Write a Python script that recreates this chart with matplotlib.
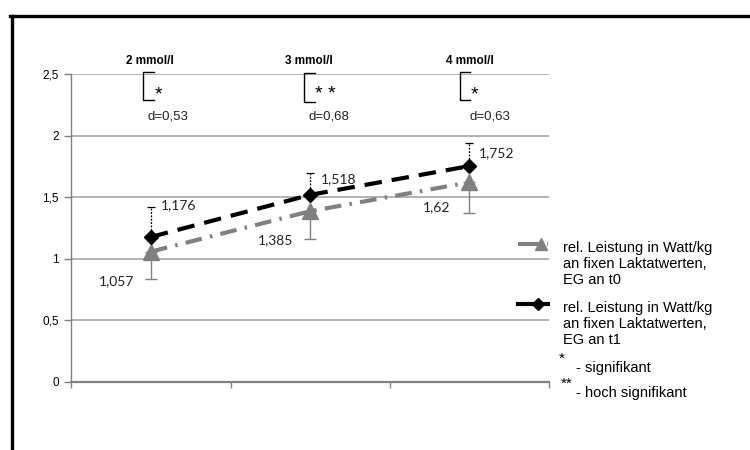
import matplotlib
matplotlib.use("Agg")
import matplotlib.pyplot as plt
from matplotlib.lines import Line2D

# Lactate thresholds and relative power (W/kg)
categories = ["2 mmol/l", "3 mmol/l", "4 mmol/l"]
t0_values = [1.057, 1.385, 1.62]
t1_values = [1.176, 1.518, 1.752]
t0_err_low = [0.225, 0.228, 0.247]
t1_err_high = [0.241, 0.175, 0.185]
t0_labels = ["1,057", "1,385", "1,62"]
t1_labels = ["1,176", "1,518", "1,752"]
significance = ["*", "**", "*"]
effect_sizes = ["d=0,53", "d=0,68", "d=0,63"]
y_ticks = [0, 0.5, 1, 1.5, 2, 2.5]
y_tick_labels = ["0", "0,5", "1", "1,5", "2", "2,5"]
legend_t0 = "rel. Leistung in Watt/kg\nan fixen Laktatwerten,\nEG an t0"
legend_t1 = "rel. Leistung in Watt/kg\nan fixen Laktatwerten,\nEG an t1"

NARROW = ["Liberation Sans Narrow", "Liberation Sans", "DejaVu Sans"]
ARIAL = ["Liberation Sans", "DejaVu Sans"]
LABEL = ["Lato", "Open Sans", "DejaVu Sans"]

GRAY = "#808080"
GRID = "#a6a6a6"

W, H = 750, 450
fig = plt.figure(figsize=(7.5, 4.5), dpi=100)
fig.patch.set_facecolor("white")


def fx(px):
    return px / W


def fy(py):
    return 1 - py / H


ax = fig.add_axes([fx(71.3), fy(381.7), fx(549) - fx(71.3), fy(74) - fy(381.7)])
ax.set_xlim(0.5, 3.5)
ax.set_ylim(0, 2.5)

x = list(range(1, len(categories) + 1))

# gridlines
ax.set_yticks(y_ticks)
ax.set_yticklabels(y_tick_labels, fontfamily=NARROW, fontsize=8.5)
ax.yaxis.grid(True, color=GRID, linewidth=1.2)
ax.set_axisbelow(True)
ax.tick_params(axis="y", length=5, width=1, color=GRAY, pad=4)
ax.set_xticks([0.5, 1.5, 2.5, 3.5])
ax.set_xticklabels([])
ax.tick_params(axis="x", length=4, width=1, color=GRAY, direction="out")
for s in ["top", "right"]:
    ax.spines[s].set_visible(False)
ax.spines["left"].set_color(GRAY)
ax.spines["left"].set_linewidth(1)
ax.spines["bottom"].set_color(GRAY)
ax.spines["bottom"].set_linewidth(1.6)

# error bars
ax.errorbar(x, t0_values, yerr=[t0_err_low, [0] * 3], fmt="none",
            ecolor=GRAY, elinewidth=1, capsize=4, capthick=1, zorder=3)
eb = ax.errorbar(x, t1_values, yerr=[[0] * 3, t1_err_high], fmt="none",
                 ecolor="black", elinewidth=0.9, capsize=3, capthick=0.9, zorder=3)
for lc in eb[2]:
    lc.set_linestyle((0, (1.5, 1.2)))

# series lines
ax.plot(x, t0_values, color=GRAY, linewidth=3, linestyle=(0, (4, 2, 0.6, 2)),
        marker="^", markersize=12, markerfacecolor=GRAY, markeredgecolor=GRAY,
        zorder=4)
ax.plot(x, t1_values, color="black", linewidth=3, linestyle=(0, (4.2, 2.4)),
        marker="D", markersize=7, markerfacecolor="black",
        markeredgecolor="black", zorder=5)

# data labels
t0_offsets = [(-12, -21), (-12, -21), (-14, -18)]
t1_offsets = [(7, 23), (8, 11), (7, 9)]
for xi, v, lab, off in zip(x, t0_values, t0_labels, t0_offsets):
    ax.annotate(lab, (xi, v), xytext=off, textcoords="offset points",
                ha="right", va="center", fontsize=10, fontfamily=LABEL,
                color="#222222")
for xi, v, lab, off in zip(x, t1_values, t1_labels, t1_offsets):
    ax.annotate(lab, (xi, v), xytext=off, textcoords="offset points",
                ha="left", va="center", fontsize=10, fontfamily=LABEL,
                color="#222222")

# category headers with significance brackets and effect sizes
title_x = [0.994, 1.993, 3.005]
bracket_x = [0.952, 1.964, 2.94]
bracket_y = [(2.288, 2.518), (2.275, 2.508), (2.288, 2.518)]
star_x = [1.045, 2.093, 3.035]
d_x = [1.107, 2.119, 3.13]
for i in range(len(categories)):
    ax.text(title_x[i], 2.607, categories[i], ha="center", va="center",
            fontsize=8.5, fontweight="bold", fontfamily=NARROW, clip_on=False)
    b0, b1 = bracket_y[i]
    bx = bracket_x[i]
    ax.plot([bx + 0.065, bx, bx, bx + 0.065], [b1, b1, b0, b0], color="black",
            linewidth=1, clip_on=False, zorder=6)
    ax.text(star_x[i], 2.33, " ".join(significance[i]), ha="center",
            va="center", fontsize=14, fontfamily=ARIAL)
    ax.text(d_x[i], 2.155, effect_sizes[i], ha="center", va="center",
            fontsize=9.5, fontfamily=ARIAL, color="#222222")

# legend
lg0 = Line2D([fx(518), fx(548)], [fy(244), fy(244)], color=GRAY, linewidth=3,
             linestyle=(0, (5, 2, 0.6, 2)), transform=fig.transFigure)
fig.add_artist(lg0)
fig.add_artist(Line2D([fx(541)], [fy(244)], marker="^", markersize=8,
                      color=GRAY, linestyle="none", transform=fig.transFigure))
lg1 = Line2D([fx(518), fx(548)], [fy(304), fy(304)], color="black", linewidth=3,
             transform=fig.transFigure)
fig.add_artist(lg1)
fig.add_artist(Line2D([fx(538)], [fy(304)], marker="D", markersize=6,
                      color="black", linestyle="none",
                      transform=fig.transFigure))
fig.text(fx(563), fy(241), legend_t0, ha="left", va="top", fontsize=10.5,
         fontfamily=ARIAL, linespacing=1.2)
fig.text(fx(563), fy(301), legend_t1, ha="left", va="top", fontsize=10.5,
         fontfamily=ARIAL, linespacing=1.2)
fig.text(fx(562), fy(359), "*", ha="center", va="center", fontsize=11,
         fontfamily=ARIAL)
fig.text(fx(576), fy(368), "- signifikant", ha="left", va="center",
         fontsize=10.5, fontfamily=ARIAL)
fig.text(fx(567), fy(384), "**", ha="center", va="center", fontsize=11,
         fontfamily=ARIAL)
fig.text(fx(576), fy(393), "- hoch signifikant", ha="left", va="center",
         fontsize=10.5, fontfamily=ARIAL)

# outer frame (top and left edges)
fig.add_artist(Line2D([fx(10), fx(760)], [fy(15.5), fy(15.5)], color="black",
                      linewidth=2.4, transform=fig.transFigure,
                      solid_capstyle="projecting"))
fig.add_artist(Line2D([fx(11.5), fx(11.5)], [fy(15.5), fy(460)], color="black",
                      linewidth=2.4, transform=fig.transFigure,
                      solid_capstyle="projecting"))

fig.savefig("out.png", dpi=100)
